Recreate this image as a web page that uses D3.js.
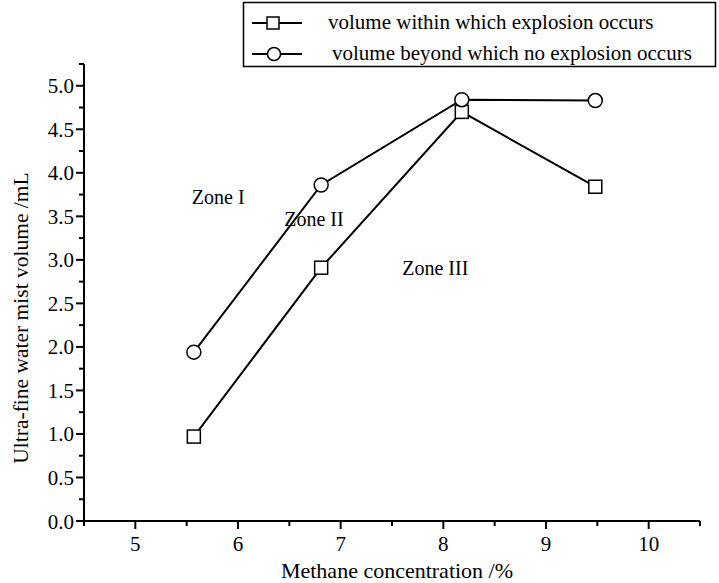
<!DOCTYPE html>
<html><head><meta charset="utf-8">
<script src="https://cdn.jsdelivr.net/npm/d3@7/dist/d3.min.js"></script>
<style>body{margin:0;background:#fff}svg{display:block}</style>
</head><body><svg id="c" width="719" height="583" font-family="Liberation Serif, DejaVu Serif, serif"></svg>
<script>
const concentration = [5.57, 6.81, 8.18, 9.48];
const explosionVolume = [0.97, 2.91, 4.70, 3.84];
const noExplosionVolume = [1.94, 3.86, 4.84, 4.83];
const xTicks = [5, 6, 7, 8, 9, 10];
const yTicks = [0, 0.5, 1, 1.5, 2, 2.5, 3, 3.5, 4, 4.5, 5];
const legendLabels = ["volume within which explosion occurs", "volume beyond which no explosion occurs"];
const zones = [{t:"Zone I", x:5.55, y:3.64}, {t:"Zone II", x:6.45, y:3.39}, {t:"Zone III", x:7.6, y:2.83}];

const svg = d3.select("#c");
const x = d3.scaleLinear().domain([4.5, 10.5]).range([84, 700]);
const y = d3.scaleLinear().domain([0, 5.25]).range([521, 64]);
const FS = 21;

// axes
const xMinor = d3.range(4.5, 10.51, 0.5).filter(v => !xTicks.includes(v));
const yMinor = d3.range(0.25, 5.25, 0.5);
const xa = svg.append("g").attr("transform","translate(0,521)");
xa.append("line").attr("x1",84).attr("x2",700).attr("stroke","#000").attr("stroke-width",2);
xa.selectAll(".M").data(xTicks).join("line").attr("x1",x).attr("x2",x).attr("y1",0).attr("y2",8).attr("stroke","#000").attr("stroke-width",2);
xa.selectAll(".m").data(xMinor).join("line").attr("x1",x).attr("x2",x).attr("y1",0).attr("y2",5).attr("stroke","#000").attr("stroke-width",2);
xa.selectAll("text").data(xTicks).join("text").attr("x",x).attr("y",30).attr("text-anchor","middle").attr("font-size",FS).text(d=>d);

const ya = svg.append("g");
ya.append("line").attr("x1",84).attr("x2",84).attr("y1",64).attr("y2",522).attr("stroke","#000").attr("stroke-width",2);
ya.selectAll(".M").data(yTicks).join("line").attr("x1",76).attr("x2",84).attr("y1",y).attr("y2",y).attr("stroke","#000").attr("stroke-width",2);
ya.selectAll(".m").data(yMinor).join("line").attr("x1",79).attr("x2",84).attr("y1",y).attr("y2",y).attr("stroke","#000").attr("stroke-width",2);
ya.append("line").attr("x1",79).attr("x2",84).attr("y1",64).attr("y2",64).attr("stroke","#000").attr("stroke-width",2);
ya.selectAll("text").data(yTicks).join("text").attr("x",74).attr("y",d=>y(d)+7.5).attr("text-anchor","end").attr("font-size",FS).text(d=>d.toFixed(1));

svg.append("text").attr("x",397).attr("y",578).attr("text-anchor","middle").attr("font-size",22).text("Methane concentration /%");
svg.append("text").attr("transform","translate(28,318) rotate(-90)").attr("text-anchor","middle").attr("font-size",21.5).text("Ultra-fine water mist volume /mL");

// series
const line = d3.line().x(d=>x(d[0])).y(d=>y(d[1]));
const s1 = concentration.map((c,i)=>[c, explosionVolume[i]]);
const s2 = concentration.map((c,i)=>[c, noExplosionVolume[i]]);
svg.append("path").attr("d",line(s1)).attr("fill","none").attr("stroke","#000").attr("stroke-width",2);
svg.append("path").attr("d",line(s2)).attr("fill","none").attr("stroke","#000").attr("stroke-width",2);
svg.selectAll(".sq").data(s1).join("rect").attr("x",d=>x(d[0])-6.5).attr("y",d=>y(d[1])-6.5).attr("width",13).attr("height",13).attr("fill","#fff").attr("stroke","#000").attr("stroke-width",1.5);
svg.selectAll(".ci").data(s2).join("circle").attr("cx",d=>x(d[0])).attr("cy",d=>y(d[1])).attr("r",7).attr("fill","#fff").attr("stroke","#000").attr("stroke-width",1.5);

// zones
svg.selectAll(".z").data(zones).join("text").attr("x",d=>x(d.x)).attr("y",d=>y(d.y)).attr("font-size",20).text(d=>d.t);

// legend
const lg = svg.append("g");
lg.append("rect").attr("x",243.5).attr("y",2.5).attr("width",472).attr("height",64).attr("fill","#fff").attr("stroke","#000").attr("stroke-width",1.5);
[0,1].forEach(i=>{
  const cy = i===0 ? 23 : 54;
  lg.append("line").attr("x1",252).attr("x2",302).attr("y1",cy).attr("y2",cy).attr("stroke","#000").attr("stroke-width",2);
  if(i===0) lg.append("rect").attr("x",267).attr("y",cy-6).attr("width",12).attr("height",12).attr("fill","#fff").attr("stroke","#000").attr("stroke-width",1.5);
  else lg.append("circle").attr("cx",274).attr("cy",cy).attr("r",6.5).attr("fill","#fff").attr("stroke","#000").attr("stroke-width",1.5);
  lg.append("text").attr("x", i===0 ? 328 : 332).attr("y", cy+6).attr("font-size",21).text(legendLabels[i]);
});
</script></body></html>
